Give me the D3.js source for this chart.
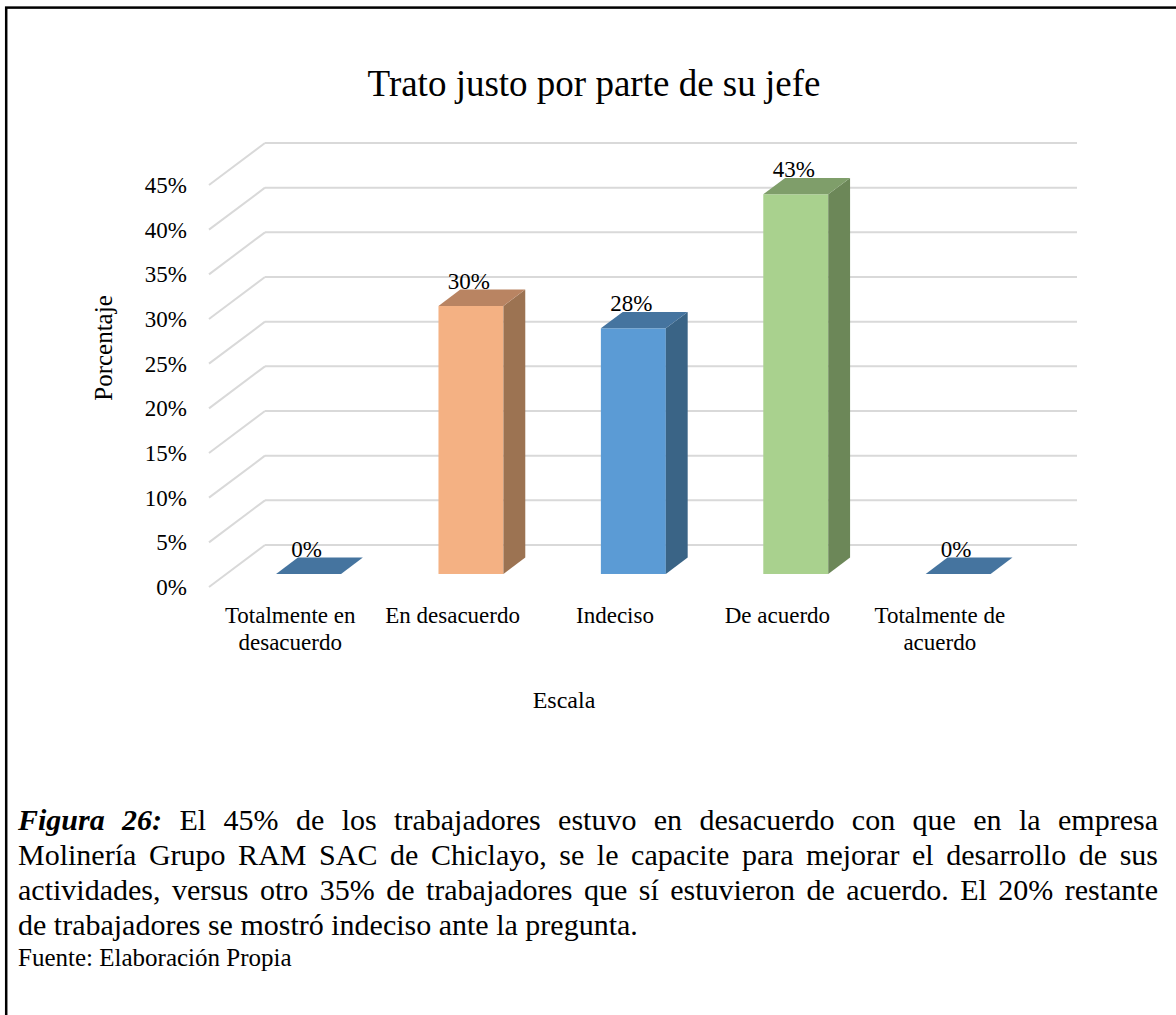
<!DOCTYPE html>
<html>
<head>
<meta charset="utf-8">
<script src="https://cdn.jsdelivr.net/npm/d3@7"></script>
<style>
  html, body { margin: 0; padding: 0; background: #fff; }
  body { width: 1176px; height: 1015px; position: relative; overflow: hidden; }
  svg { position: absolute; left: 0; top: 0; }
  .caption { position: absolute; left: 18px; width: 1140px; font-family: "Liberation Serif", "Times New Roman", serif; color: #000; }
  .caption .ln { font-size: 30px; line-height: 35px; white-space: nowrap; text-align: justify; text-align-last: justify; }
  .caption .ln.last { text-align: left; text-align-last: left; }
  .fuente { position: absolute; left: 18px; font-family: "Liberation Serif", "Times New Roman", serif; font-size: 25px; line-height: 30px; color: #000; white-space: nowrap; }
</style>
</head>
<body>
<div id="chart"></div>
<script>
// ---------- data ----------
const title = "Trato justo por parte de su jefe";
const categories = ["Totalmente en desacuerdo", "En desacuerdo", "Indeciso", "De acuerdo", "Totalmente de acuerdo"];
const categoryLines = [["Totalmente en", "desacuerdo"], ["En desacuerdo"], ["Indeciso"], ["De acuerdo"], ["Totalmente de", "acuerdo"]];
const values = [0, 30, 27.5, 42.5, 0];
const yTicks = [0, 5, 10, 15, 20, 25, 30, 35, 40, 45];
const yTickLabels = ["0%", "5%", "10%", "15%", "20%", "25%", "30%", "35%", "40%", "45%"];
const yAxisTitle = "Porcentaje";
const xAxisTitle = "Escala";
const frontColors = ["#5B9BD5", "#F4B183", "#5B9BD5", "#A9D18E", "#5B9BD5"];
const sideColors  = ["#3A6486", "#9C7352", "#3A6486", "#6C8758", "#3A6486"];
const topColors   = ["#45749F", "#B98462", "#45749F", "#7F9E6A", "#45749F"];
const captionLines = [
  "<b><i>Figura 26:</i></b> El 45% de los trabajadores estuvo en desacuerdo con que en la empresa",
  "Molinería Grupo RAM SAC de Chiclayo, se le capacite para mejorar el desarrollo de sus",
  "actividades, versus otro 35% de trabajadores que sí estuvieron de acuerdo. El 20% restante",
  "de trabajadores se mostró indeciso ante la pregunta."
];
const sourceText = "Fuente: Elaboración Propia";

// ---------- layout ----------
const W = 1176, H = 1015;
const font = "'Liberation Serif', 'Times New Roman', serif";
const floorX0 = 209, floorX1 = 1021, floorY0 = 587;
const depthDX = 56, depthDY = -42;
const barZ0 = 0.31, barZ1 = 0.70;

const svg = d3.select("#chart").append("svg").attr("width", W).attr("height", H);
svg.append("rect").attr("width", W).attr("height", H).attr("fill", "#fff");

// outer border (right/bottom outside view)
svg.append("rect").attr("x", 6.2).attr("y", 7.6).attr("width", 1300).attr("height", 1200)
  .attr("fill", "none").attr("stroke", "#000").attr("stroke-width", 2.5);

const x = d3.scaleBand().domain(categories).range([floorX0, floorX1]).padding(0);
const h = d3.scaleLinear().domain([0, 45]).range([0, 402]);
const yFront = d3.scaleLinear().domain([0, 45]).range([floorY0, floorY0 - 402]);

// title
svg.append("text").attr("x", 594).attr("y", 96).attr("text-anchor", "middle")
  .attr("font-family", font).attr("font-size", 37).attr("fill", "#000").text(title);

// gridlines: diagonal on side wall + horizontal on back wall
const grid = svg.append("g").attr("stroke", "#d9d9d9").attr("stroke-width", 2).attr("fill", "none");
yTicks.forEach(v => {
  const yf = yFront(v);
  grid.append("line").attr("x1", floorX0).attr("y1", yf).attr("x2", floorX0 + depthDX).attr("y2", yf + depthDY);
  grid.append("line").attr("x1", floorX0 + depthDX).attr("y1", yf + depthDY).attr("x2", floorX1 + depthDX).attr("y2", yf + depthDY);
});

// y axis labels
const yAxis = d3.axisLeft(yFront).tickValues(yTicks).tickSize(0).tickPadding(0)
  .tickFormat((d, i) => yTickLabels[i]);
const gy = svg.append("g").attr("transform", "translate(187,0)").call(yAxis);
gy.attr("font-family", font);
gy.select(".domain").remove();
gy.selectAll("text").attr("font-family", font).attr("font-size", 23).attr("fill", "#000");

// bars
const ddx = (barZ1 - barZ0) * depthDX, ddy = (barZ1 - barZ0) * depthDY;
const barW = x.bandwidth() * 0.4;
const bars = svg.append("g");
categories.forEach((c, i) => {
  const v = values[i];
  const cx = x(c) + x.bandwidth() / 2 + barZ0 * depthDX + 1;
  const left = cx - barW / 2, right = cx + barW / 2;
  const yb = floorY0 + barZ0 * depthDY;
  const yt = yb - h(v);
  const g = bars.append("g");
  if (v > 0) {
    g.append("rect").attr("x", left).attr("y", yt).attr("width", barW).attr("height", h(v)).attr("fill", frontColors[i]);
    g.append("polygon").attr("points", [[right, yb], [right, yt], [right + ddx, yt + ddy], [right + ddx, yb + ddy]].join(" "))
      .attr("fill", sideColors[i]);
  }
  g.append("polygon").attr("points", [[left, yt], [right, yt], [right + ddx, yt + ddy], [left + ddx, yt + ddy]].join(" "))
    .attr("fill", topColors[i]);
  g.append("text").attr("x", cx - 2).attr("y", yt - 17).attr("text-anchor", "middle")
    .attr("font-family", font).attr("font-size", 23).attr("fill", "#000")
    .text(Math.round(v) + "%");
});

// x labels
categories.forEach((c, i) => {
  const t = svg.append("text").attr("text-anchor", "middle").attr("font-family", font)
    .attr("font-size", 23).attr("fill", "#000");
  categoryLines[i].forEach((ln, j) => {
    t.append("tspan").attr("x", x(c) + x.bandwidth() / 2).attr("y", 623 + j * 27).text(ln);
  });
});

// axis titles
svg.append("text").attr("x", 564).attr("y", 708).attr("text-anchor", "middle")
  .attr("font-family", font).attr("font-size", 24).attr("fill", "#000").text(xAxisTitle);
svg.append("text").attr("transform", "translate(112,348) rotate(-90)").attr("text-anchor", "middle")
  .attr("font-family", font).attr("font-size", 25).attr("fill", "#000").text(yAxisTitle);

// caption
const cap = d3.select("body").append("div").attr("class", "caption").style("top", "802px");
captionLines.forEach((ln, i) => {
  cap.append("div").attr("class", "ln" + (i === captionLines.length - 1 ? " last" : "")).html(ln);
});
d3.select("body").append("div").attr("class", "fuente").style("top", "943px").text(sourceText);
</script>
</body>
</html>
